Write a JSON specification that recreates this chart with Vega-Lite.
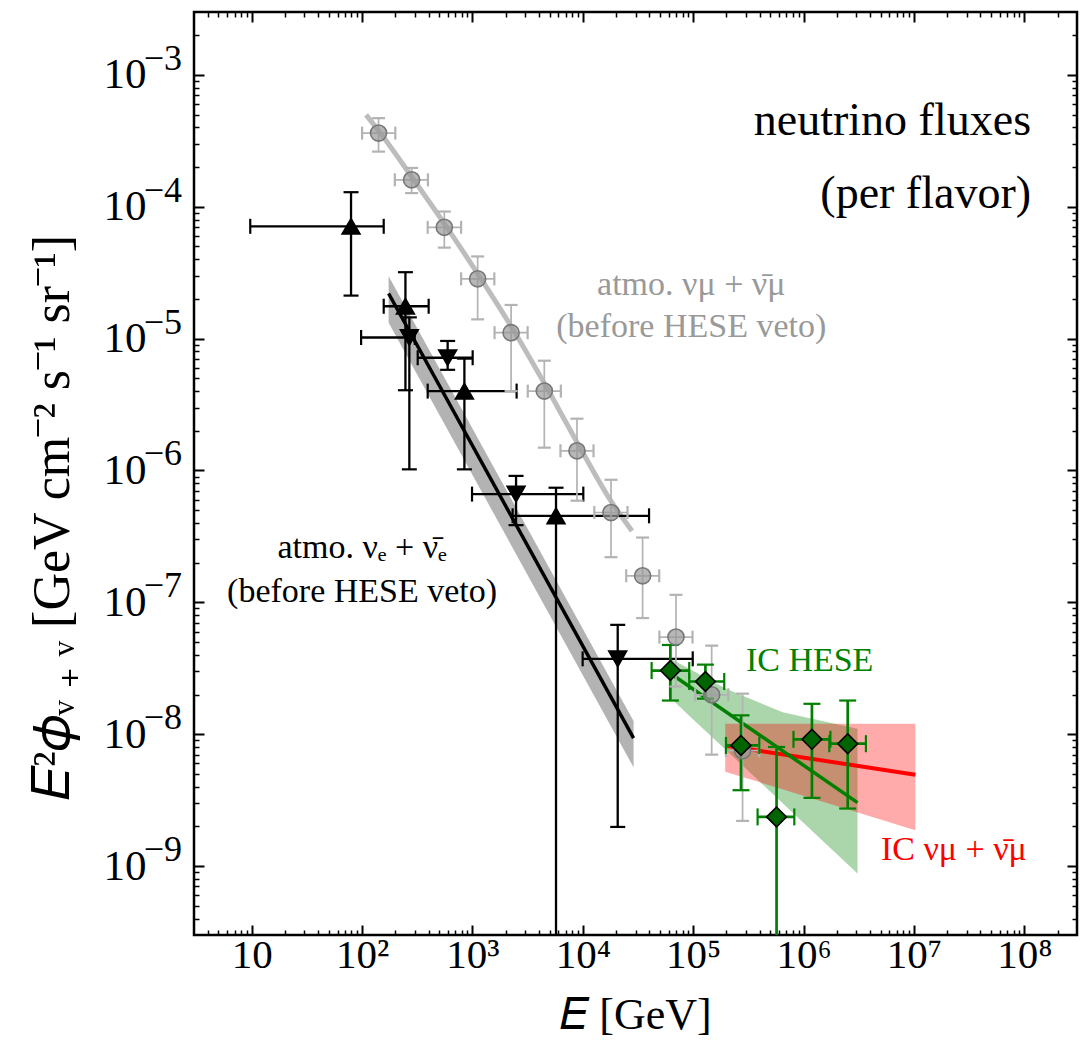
{
  "$schema": "https://vega.github.io/schema/vega-lite/v6.json",
  "width": 883,
  "height": 923,
  "autosize": {"type": "none"},
  "padding": {"left": 194, "top": 12, "right": 9, "bottom": 112},
  "background": "white",
  "config": {
    "view": {"stroke": "black", "strokeWidth": 2.5},
    "font": "Liberation Serif",
    "axis": {
      "domain": false,
      "grid": false,
      "tickColor": "black",
      "labelColor": "black",
      "titleColor": "black",
      "labelFont": "Liberation Serif",
      "titleFont": "Liberation Serif",
      "titleFontWeight": "normal",
      "labelOverlap": false,
      "labelFlush": false,
      "zindex": 1
    }
  },
  "datasets": {
    "points": [
      {"set": "mu", "E": 141, "F": 3.62e-4, "Elo": 100, "Ehi": 200, "Flo": 2.62e-4, "Fhi": 4.7e-4},
      {"set": "mu", "E": 281, "F": 1.6e-4, "Elo": 198, "Ehi": 395, "Flo": 1.27e-4, "Fhi": 1.97e-4},
      {"set": "mu", "E": 556, "F": 6.98e-5, "Elo": 393, "Ehi": 789, "Flo": 4.9e-5, "Fhi": 9.2e-5},
      {"set": "mu", "E": 1114, "F": 2.84e-5, "Elo": 789, "Ehi": 1578, "Flo": 1.4e-5, "Fhi": 4.2e-5},
      {"set": "mu", "E": 2239, "F": 1.11e-5, "Elo": 1585, "Ehi": 3160, "Flo": 4.0e-6, "Fhi": 1.8e-5},
      {"set": "mu", "E": 4477, "F": 4.0e-6, "Elo": 3170, "Ehi": 6320, "Flo": 1.49e-6, "Fhi": 6.8e-6},
      {"set": "mu", "E": 8850, "F": 1.41e-6, "Elo": 6270, "Ehi": 12500, "Flo": 5.9e-7, "Fhi": 2.47e-6},
      {"set": "mu", "E": 18000, "F": 4.8e-7, "Elo": 12700, "Ehi": 25400, "Flo": 2.2e-7, "Fhi": 8.5e-7},
      {"set": "mu", "E": 34800, "F": 1.59e-7, "Elo": 24700, "Ehi": 49200, "Flo": 7.6e-8, "Fhi": 3.1e-7},
      {"set": "mu", "E": 69800, "F": 5.45e-8, "Elo": 49400, "Ehi": 98600, "Flo": 2.3e-8, "Fhi": 1.14e-7},
      {"set": "mu", "E": 147000, "F": 1.99e-8, "Elo": 104000, "Ehi": 208000, "Flo": 7e-9, "Fhi": 4.7e-8},
      {"set": "mu", "E": 280000, "F": 7.5e-9, "Elo": 198000, "Ehi": 396000, "Flo": 2.2e-9, "Fhi": 2.03e-8},
      {"set": "e_up", "E": 79.4, "F": 7.11e-5, "Elo": 9.7, "Ehi": 157, "Flo": 2.12e-5, "Fhi": 1.29e-4},
      {"set": "e_up", "E": 247, "F": 1.76e-5, "Elo": 157, "Ehi": 401, "Flo": 4.06e-6, "Fhi": 3.19e-5},
      {"set": "e_up", "E": 845, "F": 4.0e-6, "Elo": 393, "Ehi": 2512, "Flo": 1.02e-6, "Fhi": 7.05e-6},
      {"set": "e_up", "E": 5715, "F": 4.53e-7, "Elo": 2312, "Ehi": 39800, "Flo": 1e-12, "Fhi": 7.4e-7},
      {"set": "e_down", "E": 268, "F": 1.02e-5, "Elo": 98, "Ehi": 300, "Flo": 1.02e-6, "Fhi": 1.45e-5},
      {"set": "e_down", "E": 596, "F": 7.16e-6, "Elo": 319, "Ehi": 1004, "Flo": 5.8e-6, "Fhi": 9.6e-6},
      {"set": "e_down", "E": 2483, "F": 6.62e-7, "Elo": 991, "Ehi": 10100, "Flo": 3.85e-7, "Fhi": 9.1e-7},
      {"set": "e_down", "E": 20700, "F": 3.73e-8, "Elo": 9960, "Ehi": 99000, "Flo": 1.98e-9, "Fhi": 6.75e-8},
      {"set": "hese", "E": 62100, "F": 3.04e-8, "Elo": 42000, "Ehi": 92000, "Flo": 1.8e-8, "Fhi": 4.75e-8},
      {"set": "hese", "E": 129000, "F": 2.51e-8, "Elo": 92000, "Ehi": 191000, "Flo": 1.86e-8, "Fhi": 3.37e-8},
      {"set": "hese", "E": 271000, "F": 8.22e-9, "Elo": 198000, "Ehi": 397000, "Flo": 3.76e-9, "Fhi": 1.39e-8},
      {"set": "hese", "E": 569000, "F": 2.36e-9, "Elo": 383000, "Ehi": 824000, "Flo": 1e-12, "Fhi": 8e-9},
      {"set": "hese", "E": 1190000, "F": 9.14e-9, "Elo": 810000, "Ehi": 1750000, "Flo": 3.29e-9, "Fhi": 1.7e-8},
      {"set": "hese", "E": 2510000, "F": 8.47e-9, "Elo": 1710000, "Ehi": 3670000, "Flo": 2.73e-9, "Fhi": 1.8e-8}
    ],
    "fits": [
      {"model": "mu", "E": 108.6, "F": 4.98e-4},
      {"model": "mu", "E": 141.3, "F": 3.77e-4},
      {"model": "mu", "E": 281, "F": 1.69e-4},
      {"model": "mu", "E": 556, "F": 7.45e-5},
      {"model": "mu", "E": 1114, "F": 3.11e-5},
      {"model": "mu", "E": 2239, "F": 1.24e-5},
      {"model": "mu", "E": 4477, "F": 4.58e-6},
      {"model": "mu", "E": 8851, "F": 1.64e-6},
      {"model": "mu", "E": 18000, "F": 5.86e-7},
      {"model": "mu", "E": 27900, "F": 3.48e-7},
      {"model": "e", "E": 174, "F": 2.2e-5},
      {"model": "e", "E": 28800, "F": 9.35e-9},
      {"model": "hese", "E": 60000, "F": 2.95e-8},
      {"model": "hese", "E": 3080000, "F": 3.03e-9},
      {"model": "ic", "E": 195000, "F": 8.2e-9},
      {"model": "ic", "E": 10300000, "F": 4.93e-9}
    ],
    "bands": [
      {"model": "e", "E": 174, "lo": 1.32e-5, "hi": 2.97e-5},
      {"model": "e", "E": 28800, "lo": 5.61e-9, "hi": 1.26e-8},
      {"model": "hese", "E": 60000, "lo": 1.94e-8, "hi": 3.8e-8},
      {"model": "hese", "E": 92000, "lo": 1.38e-8, "hi": 3.13e-8},
      {"model": "hese", "E": 198000, "lo": 7.6e-9, "hi": 2.21e-8},
      {"model": "hese", "E": 646000, "lo": 3.0e-9, "hi": 1.47e-8},
      {"model": "hese", "E": 3080000, "lo": 8.8e-10, "hi": 1.1e-8},
      {"model": "ic", "E": 195000, "lo": 5.2e-9, "hi": 1.2e-8},
      {"model": "ic", "E": 10300000, "lo": 1.87e-9, "hi": 1.2e-8}
    ],
    "yexponents": [
      {"F": 1e-9, "t": "−9"},
      {"F": 1e-8, "t": "−8"},
      {"F": 1e-7, "t": "−7"},
      {"F": 1e-6, "t": "−6"},
      {"F": 1e-5, "t": "−5"},
      {"F": 1e-4, "t": "−4"},
      {"F": 1e-3, "t": "−3"}
    ],
    "notes": [
      {"grp": "title", "text": "neutrino fluxes", "E": 1.15e8, "F": 3.52e-4},
      {"grp": "title", "text": "(per flavor)", "E": 1.15e8, "F": 9.84e-5},
      {"grp": "mu", "text": "atmo. νμ + ν̄μ", "E": 96000, "F": 2.16e-5},
      {"grp": "mu", "text": "(before HESE veto)", "E": 96000, "F": 1.02e-5},
      {"grp": "e", "text": "atmo. νₑ + ν̄ₑ", "E": 100, "F": 2.16e-7},
      {"grp": "e", "text": "(before HESE veto)", "E": 100, "F": 1.01e-7},
      {"grp": "hese", "text": "IC HESE", "E": 300000, "F": 2.99e-8},
      {"grp": "ic", "text": "IC νμ + ν̄μ", "E": 5020000, "F": 1.11e-9}
    ]
  },
  "resolve": {
    "axis": {"x": "independent", "y": "independent"},
    "scale": {"color": "independent", "size": "independent"}
  },
  "layer": [
    {
      "data": {"name": "bands"},
      "transform": [{"filter": "datum.model == 'e'"}],
      "mark": {"type": "area", "color": "#a6a6a6", "opacity": 0.85, "clip": true},
      "encoding": {
        "x": {"field": "E", "type": "quantitative", "scale": {"type": "log", "domain": [3, 3e8], "nice": false},
          "axis": {"orient": "bottom", "values": [10, 100, 1000, 10000, 100000, 1000000, 10000000, 100000000],
            "tickSize": -10, "tickWidth": 2, "labelFontSize": 41, "labelPadding": 10,
            "labelExpr": "datum.value < 20 ? '10' : '10' + ['', '', '²', '³', '⁴', '⁵', '⁶', '⁷', '⁸'][round(log(datum.value) / LN10)]",
            "title": "𝐸 [GeV]", "titleFontSize": 44, "titlePadding": 18}},
        "y": {"field": "lo", "type": "quantitative", "scale": {"type": "log", "domain": [3e-10, 3e-3], "nice": false},
          "axis": {"orient": "left", "values": [1e-9, 1e-8, 1e-7, 1e-6, 1e-5, 1e-4, 1e-3],
            "tickSize": -10, "tickWidth": 2, "labelFontSize": 43, "labelPadding": 58,
            "labelExpr": "'10'",
            "title": "𝐸²𝜙ᵥ ₊ ᵥ [GeV cm⁻² s⁻¹ sr⁻¹]", "titleFontSize": 52, "titlePadding": 24, "titleY": 505}},
        "y2": {"field": "hi"}
      }
    },
    {
      "data": {"name": "bands"},
      "transform": [{"filter": "datum.model == 'hese'"}],
      "mark": {"type": "area", "color": "#008000", "opacity": 0.33, "clip": true},
      "encoding": {
        "x": {"field": "E", "type": "quantitative", "scale": {"type": "log", "domain": [3, 3e8], "nice": false},
          "axis": {"orient": "bottom", "labels": false, "title": null, "tickSize": -5, "tickWidth": 1.5,
            "values": [4, 5, 6, 7, 8, 9, 20, 30, 40, 50, 60, 70, 80, 90, 200, 300, 400, 500, 600, 700, 800, 900, 2000, 3000, 4000, 5000, 6000, 7000, 8000, 9000, 20000, 30000, 40000, 50000, 60000, 70000, 80000, 90000, 200000, 300000, 400000, 500000, 600000, 700000, 800000, 900000, 2000000, 3000000, 4000000, 5000000, 6000000, 7000000, 8000000, 9000000, 20000000, 30000000, 40000000, 50000000, 60000000, 70000000, 80000000, 90000000, 200000000]}},
        "y": {"field": "lo", "type": "quantitative", "scale": {"type": "log", "domain": [3e-10, 3e-3], "nice": false},
          "axis": {"orient": "left", "labels": false, "title": null, "tickSize": -5, "tickWidth": 1.5,
            "values": [4e-10, 5e-10, 6e-10, 7e-10, 8e-10, 9e-10, 2e-9, 3e-9, 4e-9, 5e-9, 6e-9, 7e-9, 8e-9, 9e-9, 2e-8, 3e-8, 4e-8, 5e-8, 6e-8, 7e-8, 8e-8, 9e-8, 2e-7, 3e-7, 4e-7, 5e-7, 6e-7, 7e-7, 8e-7, 9e-7, 2e-6, 3e-6, 4e-6, 5e-6, 6e-6, 7e-6, 8e-6, 9e-6, 2e-5, 3e-5, 4e-5, 5e-5, 6e-5, 7e-5, 8e-5, 9e-5, 2e-4, 3e-4, 4e-4, 5e-4, 6e-4, 7e-4, 8e-4, 9e-4, 2e-3]}},
        "y2": {"field": "hi"}
      }
    },
    {
      "data": {"name": "bands"},
      "transform": [{"filter": "datum.model == 'ic'"}],
      "mark": {"type": "area", "color": "#ff0000", "opacity": 0.33, "clip": true},
      "encoding": {
        "x": {"field": "E", "type": "quantitative", "scale": {"type": "log", "domain": [3, 3e8], "nice": false},
          "axis": {"orient": "top", "labels": false, "title": null, "tickSize": -10, "tickWidth": 2,
            "values": [10, 100, 1000, 10000, 100000, 1000000, 10000000, 100000000]}},
        "y": {"field": "lo", "type": "quantitative", "scale": {"type": "log", "domain": [3e-10, 3e-3], "nice": false},
          "axis": {"orient": "right", "labels": false, "title": null, "tickSize": -10, "tickWidth": 2,
            "values": [1e-9, 1e-8, 1e-7, 1e-6, 1e-5, 1e-4, 1e-3]}},
        "y2": {"field": "hi"}
      }
    },
    {
      "data": {"name": "fits"},
      "transform": [{"filter": "datum.model == 'mu'"}],
      "mark": {"type": "line", "color": "#bdbdbd", "strokeWidth": 5, "interpolate": "monotone", "clip": true},
      "encoding": {
        "x": {"field": "E", "type": "quantitative", "scale": {"type": "log", "domain": [3, 3e8], "nice": false},
          "axis": {"orient": "top", "labels": false, "title": null, "tickSize": -5, "tickWidth": 1.5,
            "values": [4, 5, 6, 7, 8, 9, 20, 30, 40, 50, 60, 70, 80, 90, 200, 300, 400, 500, 600, 700, 800, 900, 2000, 3000, 4000, 5000, 6000, 7000, 8000, 9000, 20000, 30000, 40000, 50000, 60000, 70000, 80000, 90000, 200000, 300000, 400000, 500000, 600000, 700000, 800000, 900000, 2000000, 3000000, 4000000, 5000000, 6000000, 7000000, 8000000, 9000000, 20000000, 30000000, 40000000, 50000000, 60000000, 70000000, 80000000, 90000000, 200000000]}},
        "y": {"field": "F", "type": "quantitative", "scale": {"type": "log", "domain": [3e-10, 3e-3], "nice": false},
          "axis": {"orient": "right", "labels": false, "title": null, "tickSize": -5, "tickWidth": 1.5,
            "values": [4e-10, 5e-10, 6e-10, 7e-10, 8e-10, 9e-10, 2e-9, 3e-9, 4e-9, 5e-9, 6e-9, 7e-9, 8e-9, 9e-9, 2e-8, 3e-8, 4e-8, 5e-8, 6e-8, 7e-8, 8e-8, 9e-8, 2e-7, 3e-7, 4e-7, 5e-7, 6e-7, 7e-7, 8e-7, 9e-7, 2e-6, 3e-6, 4e-6, 5e-6, 6e-6, 7e-6, 8e-6, 9e-6, 2e-5, 3e-5, 4e-5, 5e-5, 6e-5, 7e-5, 8e-5, 9e-5, 2e-4, 3e-4, 4e-4, 5e-4, 6e-4, 7e-4, 8e-4, 9e-4, 2e-3]}}
      }
    },
    {
      "data": {"name": "fits"},
      "transform": [{"filter": "datum.model == 'e'"}],
      "mark": {"type": "line", "color": "#000000", "strokeWidth": 3.5, "clip": true},
      "encoding": {
        "x": {"field": "E", "type": "quantitative", "scale": {"type": "log", "domain": [3, 3e8], "nice": false}, "axis": null},
        "y": {"field": "F", "type": "quantitative", "scale": {"type": "log", "domain": [3e-10, 3e-3], "nice": false}, "axis": null}
      }
    },
    {
      "data": {"name": "fits"},
      "transform": [{"filter": "datum.model == 'ic'"}],
      "mark": {"type": "line", "color": "#ff0000", "strokeWidth": 4, "clip": true},
      "encoding": {
        "x": {"field": "E", "type": "quantitative", "scale": {"type": "log", "domain": [3, 3e8], "nice": false}, "axis": null},
        "y": {"field": "F", "type": "quantitative", "scale": {"type": "log", "domain": [3e-10, 3e-3], "nice": false}, "axis": null}
      }
    },
    {
      "data": {"name": "fits"},
      "transform": [{"filter": "datum.model == 'hese'"}],
      "mark": {"type": "line", "color": "#008000", "strokeWidth": 3.5, "clip": true},
      "encoding": {
        "x": {"field": "E", "type": "quantitative", "scale": {"type": "log", "domain": [3, 3e8], "nice": false}, "axis": null},
        "y": {"field": "F", "type": "quantitative", "scale": {"type": "log", "domain": [3e-10, 3e-3], "nice": false}, "axis": null}
      }
    },
    {
      "data": {"name": "points"},
      "mark": {"type": "rule", "clip": true},
      "encoding": {
        "x": {"field": "Elo", "type": "quantitative", "scale": {"type": "log", "domain": [3, 3e8], "nice": false}, "axis": null},
        "x2": {"field": "Ehi"},
        "y": {"field": "F", "type": "quantitative", "scale": {"type": "log", "domain": [3e-10, 3e-3], "nice": false}, "axis": null},
        "color": {"condition": [{"test": "datum.set == 'mu'", "value": "#b3b3b3"}, {"test": "datum.set == 'hese'", "value": "#008000"}], "value": "#000000"},
        "strokeWidth": {"condition": [{"test": "datum.set == 'mu'", "value": 1.7}, {"test": "datum.set == 'hese'", "value": 2.7}], "value": 2.3}
      }
    },
    {
      "data": {"name": "points"},
      "mark": {"type": "rule", "clip": true},
      "encoding": {
        "x": {"field": "E", "type": "quantitative", "scale": {"type": "log", "domain": [3, 3e8], "nice": false}, "axis": null},
        "y": {"field": "Flo", "type": "quantitative", "scale": {"type": "log", "domain": [3e-10, 3e-3], "nice": false}, "axis": null},
        "y2": {"field": "Fhi"},
        "color": {"condition": [{"test": "datum.set == 'mu'", "value": "#b3b3b3"}, {"test": "datum.set == 'hese'", "value": "#008000"}], "value": "#000000"},
        "strokeWidth": {"condition": [{"test": "datum.set == 'mu'", "value": 1.7}, {"test": "datum.set == 'hese'", "value": 2.7}], "value": 2.3}
      }
    },
    {
      "data": {"name": "points"},
      "transform": [{"fold": ["Elo", "Ehi"], "as": ["end", "Ecap"]}],
      "mark": {"type": "tick", "orient": "vertical", "thickness": 2.2, "opacity": 1, "clip": true},
      "encoding": {
        "x": {"field": "Ecap", "type": "quantitative", "scale": {"type": "log", "domain": [3, 3e8], "nice": false}, "axis": null},
        "y": {"field": "F", "type": "quantitative", "scale": {"type": "log", "domain": [3e-10, 3e-3], "nice": false}, "axis": null},
        "color": {"condition": [{"test": "datum.set == 'mu'", "value": "#b3b3b3"}, {"test": "datum.set == 'hese'", "value": "#008000"}], "value": "#000000"},
        "size": {"condition": [{"test": "datum.set == 'mu'", "value": 13}, {"test": "datum.set == 'hese'", "value": 17}], "value": 15}
      }
    },
    {
      "data": {"name": "points"},
      "transform": [{"fold": ["Flo", "Fhi"], "as": ["end", "Fcap"]}],
      "mark": {"type": "tick", "orient": "horizontal", "thickness": 2.2, "opacity": 1, "clip": true},
      "encoding": {
        "x": {"field": "E", "type": "quantitative", "scale": {"type": "log", "domain": [3, 3e8], "nice": false}, "axis": null},
        "y": {"field": "Fcap", "type": "quantitative", "scale": {"type": "log", "domain": [3e-10, 3e-3], "nice": false}, "axis": null},
        "color": {"condition": [{"test": "datum.set == 'mu'", "value": "#b3b3b3"}, {"test": "datum.set == 'hese'", "value": "#008000"}], "value": "#000000"},
        "size": {"condition": [{"test": "datum.set == 'mu'", "value": 13}, {"test": "datum.set == 'hese'", "value": 17}], "value": 15}
      }
    },
    {
      "data": {"name": "points"},
      "mark": {"type": "point", "filled": true, "opacity": 1, "strokeWidth": 1.6, "clip": true},
      "encoding": {
        "x": {"field": "E", "type": "quantitative", "scale": {"type": "log", "domain": [3, 3e8], "nice": false}, "axis": null},
        "y": {"field": "F", "type": "quantitative", "scale": {"type": "log", "domain": [3e-10, 3e-3], "nice": false}, "axis": null},
        "shape": {"field": "set", "type": "nominal", "legend": null,
          "scale": {"domain": ["mu", "e_up", "e_down", "hese"], "range": ["circle", "triangle-up", "triangle-down", "diamond"]}},
        "fill": {"condition": [{"test": "datum.set == 'mu'", "value": "#999999"}, {"test": "datum.set == 'hese'", "value": "#006400"}], "value": "#000000"},
        "stroke": {"condition": {"test": "datum.set == 'mu'", "value": "#777777"}, "value": "#000000"},
        "fillOpacity": {"condition": {"test": "datum.set == 'mu'", "value": 0.7}, "value": 1},
        "size": {"condition": [{"test": "datum.set == 'mu'", "value": 260}, {"test": "datum.set == 'hese'", "value": 390}], "value": 320}
      }
    },
    {
      "data": {"name": "yexponents"},
      "mark": {"type": "text", "align": "right", "baseline": "alphabetic", "dx": -12, "dy": -5, "fontSize": 36, "font": "Liberation Serif", "color": "#000000"},
      "encoding": {
        "x": {"datum": 3, "type": "quantitative", "scale": {"type": "log", "domain": [3, 3e8], "nice": false}, "axis": null},
        "y": {"field": "F", "type": "quantitative", "scale": {"type": "log", "domain": [3e-10, 3e-3], "nice": false}, "axis": null},
        "text": {"field": "t"}
      }
    },
    {
      "data": {"name": "notes"},
      "transform": [{"filter": "datum.grp == 'title'"}],
      "mark": {"type": "text", "align": "right", "baseline": "alphabetic", "fontSize": 46, "font": "Liberation Serif", "color": "#000000"},
      "encoding": {
        "x": {"field": "E", "type": "quantitative", "scale": {"type": "log", "domain": [3, 3e8], "nice": false}, "axis": null},
        "y": {"field": "F", "type": "quantitative", "scale": {"type": "log", "domain": [3e-10, 3e-3], "nice": false}, "axis": null},
        "text": {"field": "text"}
      }
    },
    {
      "data": {"name": "notes"},
      "transform": [{"filter": "datum.grp == 'mu' || datum.grp == 'e'"}],
      "mark": {"type": "text", "align": "center", "baseline": "alphabetic", "fontSize": 34, "font": "Liberation Serif"},
      "encoding": {
        "x": {"field": "E", "type": "quantitative", "scale": {"type": "log", "domain": [3, 3e8], "nice": false}, "axis": null},
        "y": {"field": "F", "type": "quantitative", "scale": {"type": "log", "domain": [3e-10, 3e-3], "nice": false}, "axis": null},
        "text": {"field": "text"},
        "color": {"condition": {"test": "datum.grp == 'mu'", "value": "#999999"}, "value": "#000000"}
      }
    },
    {
      "data": {"name": "notes"},
      "transform": [{"filter": "datum.grp == 'hese' || datum.grp == 'ic'"}],
      "mark": {"type": "text", "align": "left", "baseline": "alphabetic", "fontSize": 34, "font": "Liberation Serif"},
      "encoding": {
        "x": {"field": "E", "type": "quantitative", "scale": {"type": "log", "domain": [3, 3e8], "nice": false}, "axis": null},
        "y": {"field": "F", "type": "quantitative", "scale": {"type": "log", "domain": [3e-10, 3e-3], "nice": false}, "axis": null},
        "text": {"field": "text"},
        "color": {"condition": {"test": "datum.grp == 'hese'", "value": "#008000"}, "value": "#ff0000"}
      }
    }
  ]
}
